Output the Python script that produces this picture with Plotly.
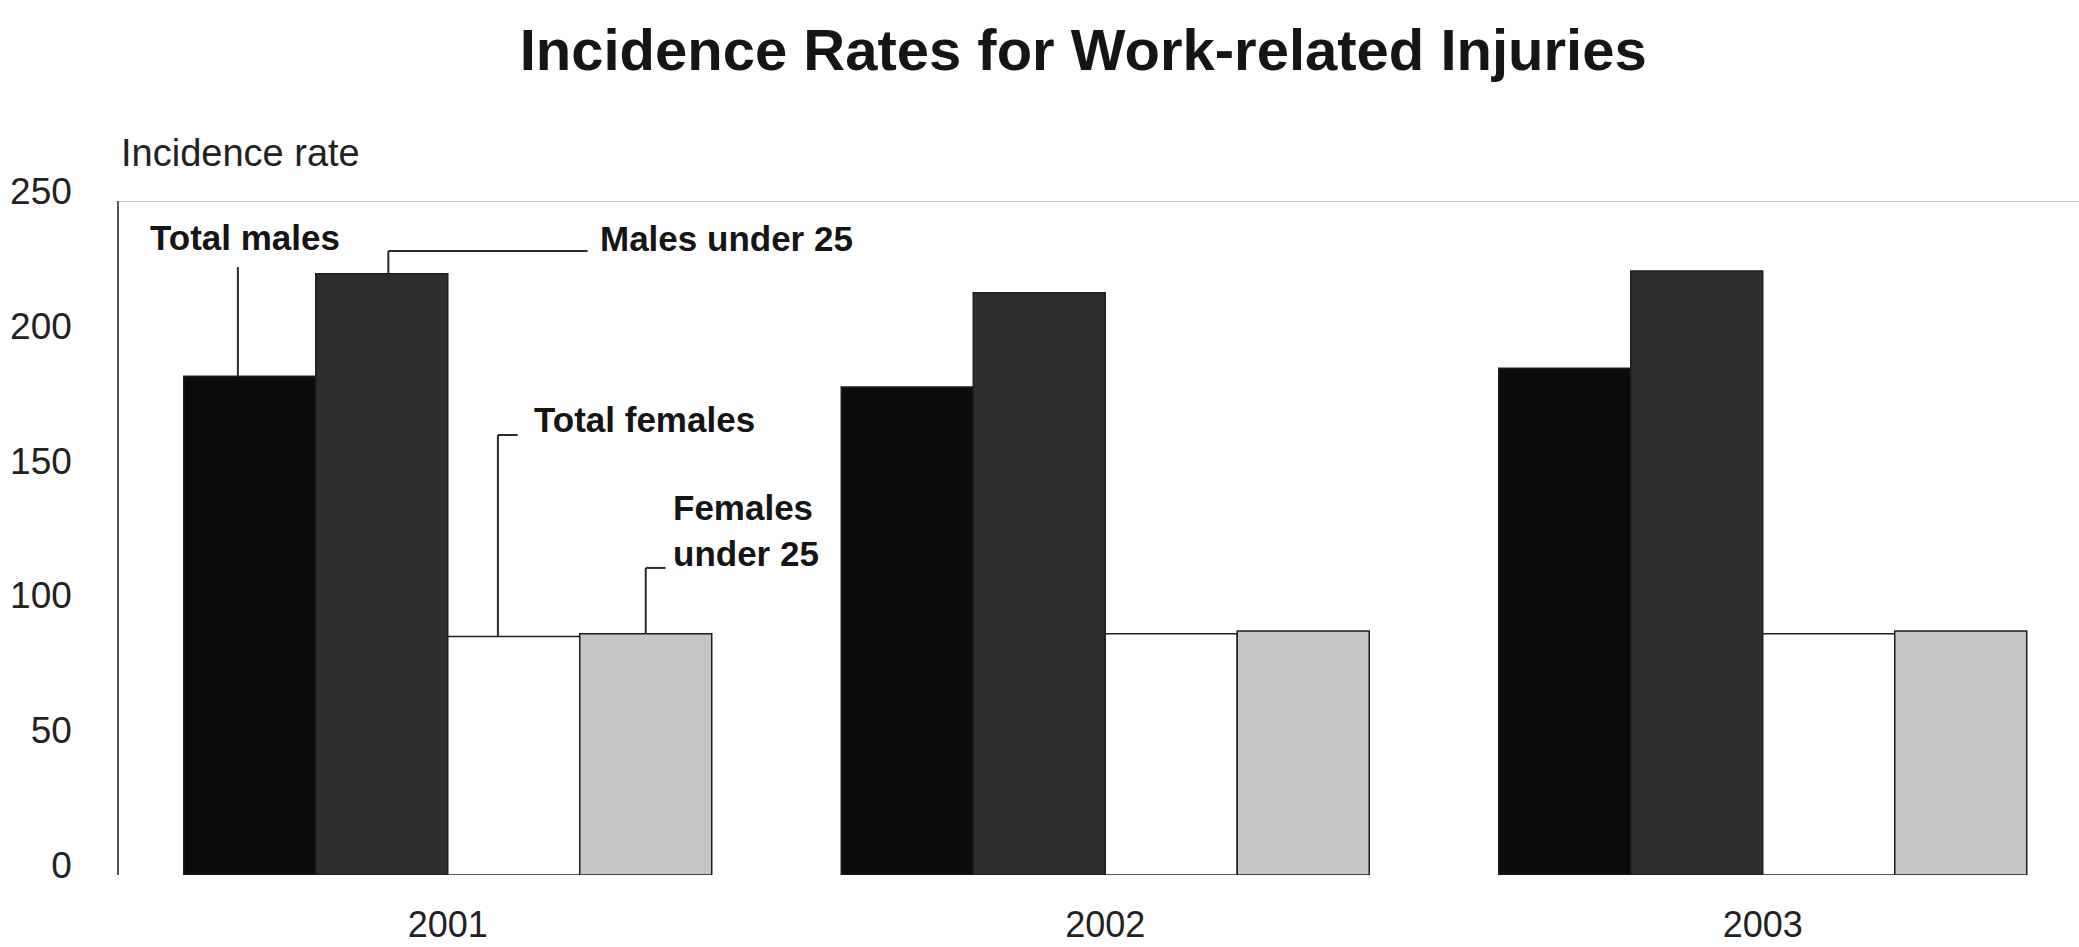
import plotly.graph_objects as go

# ---- data -------------------------------------------------------------
years = ["2001", "2002", "2003"]
series_names = ["Total males", "Males under 25", "Total females", "Females under 25"]
total_males = [185, 181, 188]
males_under_25 = [223, 216, 224]
total_females = [88.5, 89.5, 89.5]
females_under_25 = [89.5, 90.5, 90.5]
y_ticks = [0, 50, 100, 150, 200, 250]

series_values = [total_males, males_under_25, total_females, females_under_25]

# ---- style ------------------------------------------------------------
FONT = "Liberation Sans, Arial, Helvetica, sans-serif"
fills = ["#0c0c0c", "#2e2e2e", "#ffffff", "#c6c6c6"]
BARGAP = 0.197
x_pos = list(range(len(years)))

fig = go.Figure()
for name, vals, col in zip(series_names, series_values, fills):
    fig.add_trace(go.Bar(
        x=x_pos, y=vals, name=name,
        marker=dict(color=col, line=dict(color="#1e1e1e", width=1.5)),
        hoverinfo="skip",
    ))

# bar centre offsets inside a year group
n = len(series_names)
bw = (1 - BARGAP) / n
centres = [-(1 - BARGAP) / 2 + bw * (i + 0.5) for i in range(n)]

# leader-line callouts for the first year group
# (series index, horizontal shift in bar widths, line top, elbow length, label x, label y, label text)
callouts = [
    (0, -0.09, 225.5, 0.0, -0.456, 236.3, "Total males"),
    (1, 0.05, 231.5, 0.303, 0.228, 236.0, "Males under 25"),
    (2, -0.12, 163.2, 0.030, 0.128, 168.8, "Total females"),
    (3, 0.0, 113.9, 0.030, 0.340, 127.8, "Females<br>under 25"),
]

shapes = []
annotations = []
LINE = dict(color="#2a2a2a", width=2)
for idx, shift, top, elbow, lx, ly, text in callouts:
    xc = x_pos[0] + centres[idx] + shift * bw
    base = series_values[idx][0]
    shapes.append(dict(type="line", xref="x", yref="y", x0=xc, x1=xc,
                       y0=base, y1=top, line=LINE))
    if elbow:
        shapes.append(dict(type="line", xref="x", yref="y", x0=xc, x1=xc + elbow,
                           y0=top, y1=top, line=LINE))
    annotations.append(dict(x=lx, y=ly, xref="x", yref="y", text=text,
                            showarrow=False, xanchor="left", yanchor="middle",
                            align="left",
                            font=dict(family=FONT, size=35, color="#151515",
                                      weight="bold")))

# light rule across the top of the plot
shapes.append(dict(type="line", xref="paper", yref="y", x0=0, x1=1,
                   y0=y_ticks[-1], y1=y_ticks[-1],
                   line=dict(color="#c4c4c4", width=2)))

annotations.append(dict(x=0.0, y=1.071, xref="paper", yref="paper",
                        text="Incidence rate", showarrow=False,
                        xanchor="left", yanchor="middle",
                        font=dict(family=FONT, size=38, color="#222222")))

fig.update_layout(
    width=2079, height=947,
    margin=dict(l=119, r=0, t=201, b=72),
    paper_bgcolor="white", plot_bgcolor="white",
    barmode="group", bargap=BARGAP, bargroupgap=0,
    showlegend=False,
    title=dict(text="<b>Incidence Rates for Work-related Injuries</b>",
               x=0.521, xanchor="center", y=0.948, yanchor="middle",
               font=dict(family=FONT, size=58, color="#151515")),
    font=dict(family=FONT, color="#222222"),
    shapes=shapes,
    annotations=annotations,
)
fig.update_xaxes(range=[-0.5, 2.481], tickvals=x_pos, ticktext=years,
                 automargin=False,
                 showgrid=False, zeroline=False, showline=False, ticks="",
                 ticklabelstandoff=25,
                 tickfont=dict(family=FONT, size=36, color="#222222"))
fig.update_yaxes(range=[0, 250], tickvals=y_ticks, automargin=False,
                 showgrid=False, zeroline=False,
                 showline=True, linecolor="#555555", linewidth=1.5,
                 ticks="", ticklabelstandoff=38, ticklabelshift=-10,
                 tickfont=dict(family=FONT, size=37, color="#222222"))

fig.write_html("out.html")
